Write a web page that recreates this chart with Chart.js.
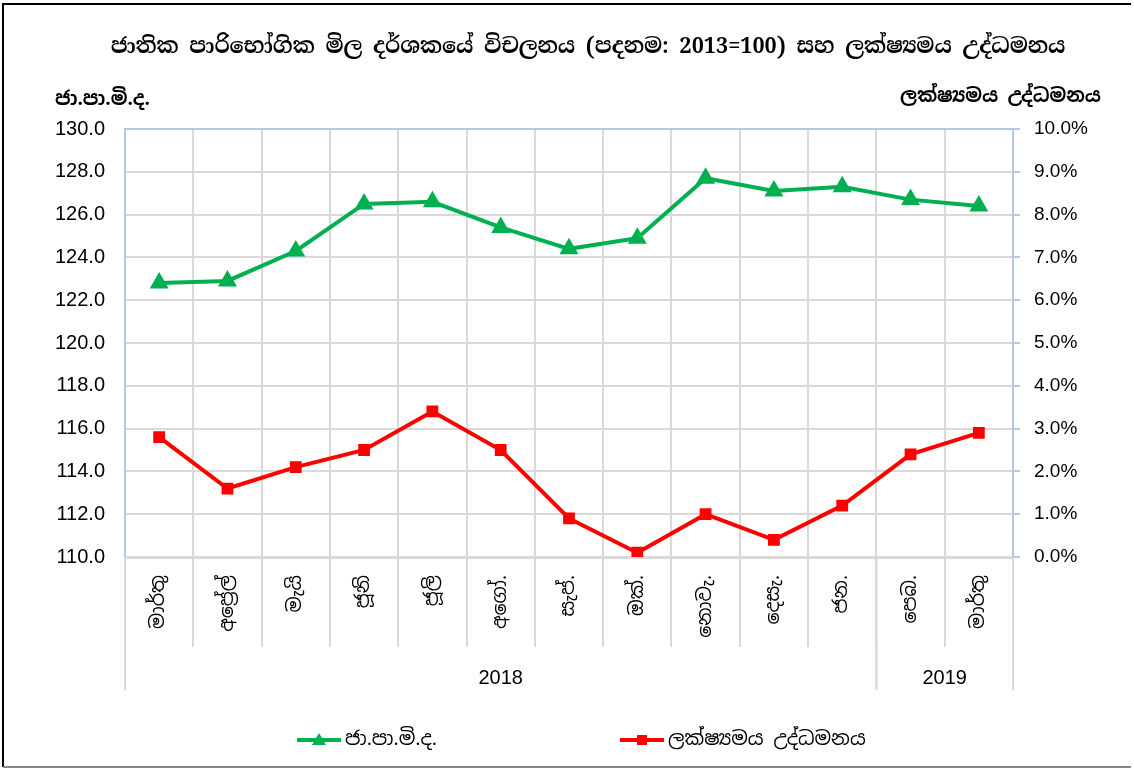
<!DOCTYPE html>
<html>
<head>
<meta charset="utf-8">
<script src="https://cdn.jsdelivr.net/npm/chart.js@4"></script>
<style>
html,body{margin:0;padding:0;background:#fff;}
#wrap{width:1134px;height:769px;position:relative;}
</style>
</head>
<body>
<div id="wrap"><canvas id="c"></canvas></div>
<script>
const months = ['මාර්තු','අප්‍රේල්','මැයි','ජූනි','ජූලි','අගෝ.','සැප්.','ඔක්.','නොවැ.','දෙසැ.','ජන.','පෙබ.','මාර්තු'];
const yearGroups = [
  {label:'2018', from:0, to:10},
  {label:'2019', from:11, to:12}
];
const ccpi = [122.8,122.9,124.3,126.5,126.6,125.4,124.4,124.9,127.7,127.1,127.3,126.7,126.4];
const inflation = [2.8,1.6,2.1,2.5,3.4,2.5,0.9,0.1,1.0,0.4,1.2,2.4,2.9];
const titleText = 'ජාතික පාරිභෝගික මිල දර්ශකයේ විචලනය (පදනම: 2013=100) සහ ලක්ෂ්‍යමය උද්ධමනය';
const leftAxisTitle = 'ජා.පා.මි.ද.';
const rightAxisTitle = 'ලක්ෂ්‍යමය උද්ධමනය';
const seriesNames = ['ජා.පා.මි.ද.','ලක්ෂ්‍යමය උද්ධමනය'];

const SIN = "'Noto Sans Sinhala','Iskoola Pota','Noto Sans','DejaVu Sans',sans-serif";
const SINSERIF = "'Noto Serif Sinhala','Liberation Serif','Times New Roman',serif";
const NUM = "'Liberation Sans',Arial,sans-serif";
const GREEN = '#00b050', RED = '#ff0000', GRID = '#d9d9d9', BLUE = '#b4c7e7';

const decor = {
  id:'decor',
  afterDraw(chart){
    const ctx = chart.ctx, ca = chart.chartArea, xs = chart.scales.x;
    ctx.save();
    // title
    ctx.fillStyle = '#000';
    ctx.textAlign = 'center'; ctx.textBaseline = 'middle';
    ctx.font = "bold 21.5px " + SINSERIF;
    ctx.fillText(titleText, 588, 47);
    // axis titles
    ctx.font = "bold 19px " + SIN;
    ctx.textAlign = 'left';
    ctx.fillText(leftAxisTitle, 55, 100);
    ctx.textAlign = 'right';
    ctx.fillText(rightAxisTitle, 1101, 97);
    // year group dividers and labels
    const half = (xs.getPixelForValue(1) - xs.getPixelForValue(0)) / 2;
    const yBottom = ca.bottom + 133;
    ctx.strokeStyle = GRID; ctx.lineWidth = 2;
    const edges = new Set();
    yearGroups.forEach(g => {
      edges.add(xs.getPixelForValue(g.from) - half);
      edges.add(xs.getPixelForValue(g.to) + half);
    });
    edges.forEach(x => {
      ctx.beginPath(); ctx.moveTo(x, ca.bottom); ctx.lineTo(x, yBottom); ctx.stroke();
    });
    ctx.fillStyle = '#000';
    ctx.font = "20px " + NUM;
    ctx.textAlign = 'center';
    yearGroups.forEach(g => {
      const x = ((xs.getPixelForValue(g.from) - half) + (xs.getPixelForValue(g.to) + half)) / 2;
      ctx.fillText(g.label, x, ca.bottom + 121);
    });
    // legend
    const legY = 740;
    const items = [
      {x:297, color:GREEN, style:'triangle', text:seriesNames[0]},
      {x:620, color:RED, style:'rect', text:seriesNames[1]}
    ];
    items.forEach(it => {
      ctx.strokeStyle = it.color; ctx.lineWidth = 4;
      ctx.beginPath(); ctx.moveTo(it.x, legY); ctx.lineTo(it.x + 44, legY); ctx.stroke();
      ctx.fillStyle = it.color;
      const cx = it.x + 22;
      if (it.style === 'triangle') {
        ctx.beginPath(); ctx.moveTo(cx, legY - 7); ctx.lineTo(cx + 7, legY + 5); ctx.lineTo(cx - 7, legY + 5); ctx.closePath(); ctx.fill();
      } else {
        ctx.fillRect(cx - 5, legY - 5, 10, 10);
      }
      ctx.fillStyle = '#000';
      ctx.font = "19.5px " + SIN;
      ctx.textAlign = 'left';
      ctx.fillText(it.text, it.x + 48, legY);
    });
    // frame
    ctx.lineWidth = 2; ctx.strokeStyle = '#000';
    ctx.beginPath(); ctx.moveTo(3, 767); ctx.lineTo(3, 4); ctx.lineTo(1131, 4); ctx.stroke();
    ctx.strokeStyle = '#888';
    ctx.beginPath(); ctx.moveTo(3, 767); ctx.lineTo(1131, 767); ctx.stroke();
    ctx.restore();
  }
};

new Chart(document.getElementById('c'), {
  type:'line',
  data:{
    labels: months,
    datasets:[
      {label:seriesNames[0], data:ccpi, yAxisID:'y', borderColor:GREEN, backgroundColor:GREEN,
       borderWidth:4, pointStyle:'triangle', pointRadius:7, pointHoverRadius:7, tension:0},
      {label:seriesNames[1], data:inflation, yAxisID:'y1', borderColor:RED, backgroundColor:RED,
       borderWidth:4, pointStyle:'rect', pointRadius:5.5, pointHoverRadius:5.5, tension:0}
    ]
  },
  options:{
    responsive:true, maintainAspectRatio:false, animation:false,
    layout:{padding:{top:129, bottom:79, left:0, right:0}},
    plugins:{legend:{display:false}, title:{display:false}, tooltip:{enabled:false}},
    scales:{
      x:{
        offset:true,
        grid:{offset:true, color:GRID, lineWidth:2, tickLength:90, tickColor:GRID, drawTicks:true},
        border:{color:GRID, width:3},
        ticks:{minRotation:90, maxRotation:90, autoSkip:false, padding:-72, color:'#000',
               font:{family:SIN, size:19}},
        afterFit(s){ s.height = 133; }
      },
      y:{
        position:'left', min:110, max:130,
        ticks:{stepSize:2, color:'#000', padding:20, font:{family:NUM, size:20},
               callback:v => v.toFixed(1)},
        grid:{color:c => (c.tick && c.tick.value === 130) ? BLUE : GRID, lineWidth:2, drawTicks:false},
        border:{color:BLUE, width:2},
        afterFit(s){ s.width = 125; }
      },
      y1:{
        position:'right', min:0, max:10,
        ticks:{stepSize:1, color:'#000', padding:14, font:{family:NUM, size:19},
               callback:v => v.toFixed(1) + '%'},
        grid:{drawOnChartArea:false, drawTicks:true, tickLength:7, tickColor:BLUE, lineWidth:2},
        border:{color:BLUE, width:2},
        afterFit(s){ s.width = 121; }
      }
    }
  },
  plugins:[decor]
});
</script>
</body>
</html>
